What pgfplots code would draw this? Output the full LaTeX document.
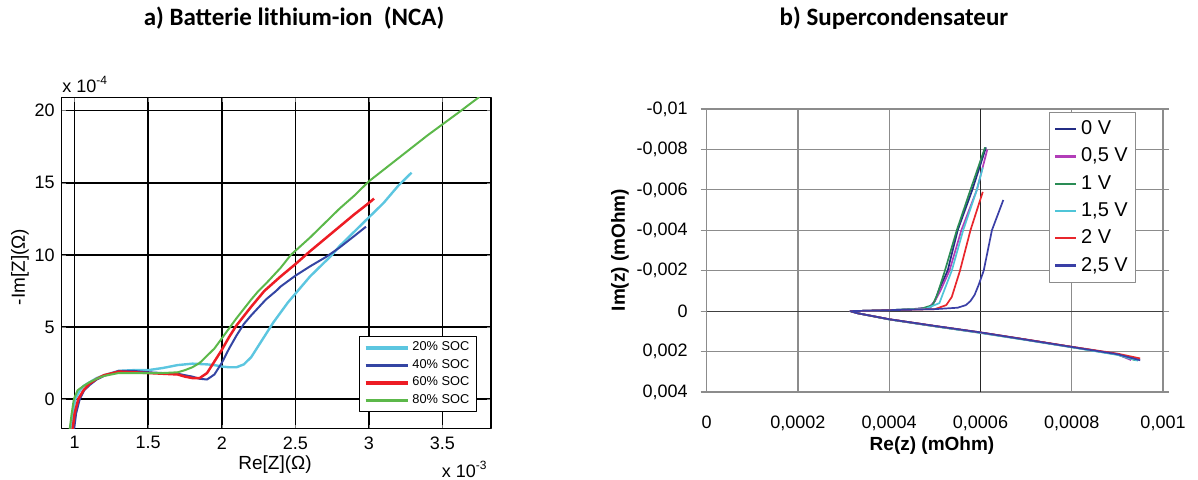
\documentclass[border=0pt]{standalone}
\usepackage{pgfplots}
\pgfplotsset{compat=1.18}
\usepackage{fontspec}
\setmainfont{Liberation Sans}
\newfontfamily\titlefont{Carlito}
\definecolor{cCyan}{HTML}{5CC6E0}
\definecolor{cBlue}{HTML}{3445A3}
\definecolor{cRed}{HTML}{ED1C24}
\definecolor{cGreen}{HTML}{5CB84A}
\definecolor{vA}{HTML}{232C84}
\definecolor{vB}{HTML}{B23DB8}
\definecolor{vC}{HTML}{2A8C55}
\definecolor{vD}{HTML}{4FC5D8}
\definecolor{vE}{HTML}{E8262C}
\definecolor{vF}{HTML}{3A3FA6}
\begin{document}
\begin{tikzpicture}
\useasboundingbox (0pt,0pt) rectangle (599pt,-239.5pt);
% ---------------- left plot
\begin{axis}[at={(30.85pt,-48.85pt)}, anchor=north west, scale only axis,
  width=214.65pt, height=165.4pt,
  xmin=0.912, xmax=3.83, ymin=-2.05, ymax=20.9,
  xtick={1,1.5,2,2.5,3,3.5}, xticklabels={1,1.5,2,2.5,3,3.5},
  ytick={0,5,10,15,20}, yticklabels={0,5,10,15,20},
  scaled ticks=false,
  xmajorgrids=true, ymajorgrids=true,
  grid style={draw=black,line width=0.8pt},
  major grid style={draw=black,line width=0.8pt},
  axis line style={black,line width=0.7pt},
  tick align=inside, major tick length=2pt,
  ticklabel style={font=\fontsize{9}{10}\selectfont},
  xticklabel style={yshift=-0.5pt},
  legend cell align=left,
  legend style={at={(0.693,0.2796)}, anchor=north west, draw=black, line width=0.6pt,
    font=\fontsize{6.4}{7}\selectfont, row sep=1.6pt, inner xsep=2pt, inner ysep=2pt,
    nodes={inner ysep=0.6pt, inner xsep=1.5pt}},
  legend image code/.code={\draw[#1,line width=1.8pt] (0pt,0pt) -- (21pt,0pt);},
  line join=round,
]
\addplot[cCyan, line width=1.2pt] coordinates {(0.975,-2.2)(0.988,-1)(1.005,0)(1.03,0.5)(1.06,0.9)(1.1,1.15)(1.15,1.45)(1.2,1.65)(1.3,1.95)(1.4,2.0)(1.5,2.0)(1.6,2.15)(1.7,2.35)(1.8,2.45)(1.9,2.4)(1.95,2.35)(2.0,2.25)(2.05,2.2)(2.1,2.2)(2.15,2.4)(2.2,2.9)(2.25,3.7)(2.3,4.5)(2.35,5.3)(2.4,6.0)(2.45,6.7)(2.5,7.3)(2.6,8.5)(2.7,9.5)(2.75,10.0)(2.8,10.6)(2.9,11.6)(3.0,12.6)(3.1,13.6)(3.2,14.8)(3.29,15.7)};
\addlegendentry{20\% SOC}
\addplot[cBlue, line width=1.0pt] coordinates {(0.995,-2.2)(1.01,-1)(1.035,0)(1.065,0.6)(1.1,0.95)(1.15,1.35)(1.2,1.6)(1.3,1.95)(1.4,1.95)(1.5,1.85)(1.6,1.8)(1.7,1.75)(1.75,1.65)(1.8,1.55)(1.85,1.4)(1.9,1.35)(1.95,1.7)(2.0,2.5)(2.05,3.5)(2.1,4.4)(2.15,5.2)(2.2,5.8)(2.3,6.9)(2.37,7.5)(2.4,7.8)(2.5,8.55)(2.6,9.2)(2.7,9.8)(2.73,10.0)(2.8,10.5)(2.9,11.3)(2.98,11.95)};
\addlegendentry{40\% SOC}
\addplot[cRed, line width=1.25pt] coordinates {(0.985,-2.2)(1.0,-1)(1.025,0)(1.06,0.6)(1.1,1.05)(1.15,1.4)(1.2,1.65)(1.3,1.9)(1.4,1.85)(1.5,1.8)(1.6,1.75)(1.7,1.7)(1.75,1.55)(1.8,1.45)(1.85,1.45)(1.9,1.8)(1.95,2.6)(2.0,3.4)(2.05,4.3)(2.1,5.1)(2.2,6.4)(2.29,7.5)(2.4,8.5)(2.5,9.35)(2.55,9.8)(2.6,10.25)(2.7,11.1)(2.8,11.95)(2.9,12.8)(3.0,13.6)(3.035,13.9)};
\addlegendentry{60\% SOC}
\addplot[cGreen, line width=1.0pt] coordinates {(0.965,-2.2)(0.98,-1)(0.995,0)(1.02,0.6)(1.06,0.9)(1.1,1.15)(1.15,1.4)(1.2,1.6)(1.3,1.8)(1.4,1.8)(1.5,1.8)(1.6,1.8)(1.7,1.85)(1.75,2.0)(1.8,2.2)(1.85,2.5)(1.9,3.0)(1.95,3.5)(2.0,4.2)(2.05,4.9)(2.1,5.6)(2.2,6.9)(2.25,7.5)(2.3,8.0)(2.4,9.1)(2.47,10.0)(2.6,11.2)(2.7,12.2)(2.8,13.2)(2.9,14.1)(3.0,15.1)(3.1,15.9)(3.2,16.7)(3.3,17.5)(3.4,18.3)(3.5,19.05)(3.6,19.8)(3.75,20.95)};
\addlegendentry{80\% SOC}
\end{axis}
% ---------------- right plot
\begin{axis}[at={(353.35pt,-54.5pt)}, anchor=north west, scale only axis,
  width=228.15pt, height=141.5pt,
  xmin=0, xmax=0.001, ymin=-0.01, ymax=0.004, y dir=reverse,
  xtick={0,0.0002,0.0004,0.0006,0.0008,0.001},
  xticklabels={0,{0,0002},{0,0004},{0,0006},{0,0008},{0,001}},
  ytick={-0.01,-0.008,-0.006,-0.004,-0.002,0,0.002,0.004},
  yticklabels={{-0,01},{-0,008},{-0,006},{-0,004},{-0,002},0,{0,002},{0,004}},
  scaled ticks=false,
  grid=major, major grid style={black!45,line width=0.55pt},
  axis line style={black!45,line width=0.55pt},
  tick align=outside, major tick length=3pt,
  ytick style={black!45,line width=0.55pt},
  xtick style={draw=none},
  extra x ticks={0.0006}, extra x tick labels={},
  extra x tick style={grid=major, major grid style={black!85,line width=0.55pt}, tick style={draw=none}},
  extra y ticks={0}, extra y tick labels={},
  extra y tick style={grid=major, major grid style={black!75,line width=0.6pt}},
  ticklabel style={font=\fontsize{9}{10}\selectfont},
  xticklabel style={yshift=-5.5pt},
  yticklabel style={xshift=-3pt},
  legend cell align=left,
  legend style={at={(0.751,0.989)}, anchor=north west, draw=black!45, line width=0.5pt,
    font=\fontsize{10}{11}\selectfont, row sep=1.2pt, inner xsep=2pt, inner ysep=2pt},
  legend image code/.code={\draw[#1,line width=1.1pt] (0pt,0pt) -- (10.5pt,0pt);},
  line join=round,
]
\addplot[vA, line width=0.85pt] coordinates {(0.000945,0.0024)(0.0009,0.00213)(0.0008,0.00177)(0.0007,0.00141)(0.0006,0.00106)(0.0005,0.00074)(0.0004,0.0004)(0.00033,0.0001)(0.000315,0)(0.0004,-0.00005)(0.00045,-0.0001)(0.00049,-0.00018)(0.0005,-0.0005)(0.000508,-0.001)(0.000528,-0.002)(0.00055,-0.004)(0.000582,-0.006)(0.000612,-0.0081)};
\addlegendentry{0 V}
\addplot[vB, line width=0.85pt] coordinates {(0.00093,0.00242)(0.0009,0.00214)(0.0008,0.00177)(0.0007,0.00141)(0.0006,0.00106)(0.0005,0.00074)(0.0004,0.0004)(0.00033,0.0001)(0.000315,0)(0.0004,-0.00005)(0.00046,-0.0001)(0.000488,-0.0002)(0.0005,-0.0005)(0.000512,-0.001)(0.000532,-0.002)(0.000558,-0.004)(0.000592,-0.006)(0.000615,-0.008)};
\addlegendentry{0,5 V}
\addplot[vC, line width=0.85pt] coordinates {(0.00094,0.00243)(0.0009,0.00215)(0.0008,0.00178)(0.0007,0.00142)(0.0006,0.00107)(0.0005,0.00075)(0.0004,0.00041)(0.00033,0.0001)(0.000315,0)(0.0004,-0.00005)(0.00047,-0.00012)(0.000495,-0.0003)(0.000505,-0.0008)(0.000522,-0.002)(0.000548,-0.004)(0.000578,-0.006)(0.00061,-0.0081)};
\addlegendentry{1 V}
\addplot[vD, line width=0.85pt] coordinates {(0.000945,0.00245)(0.0009,0.00216)(0.0008,0.00179)(0.0007,0.00143)(0.0006,0.00108)(0.0005,0.00075)(0.0004,0.00041)(0.00033,0.0001)(0.000315,0)(0.0004,-0.00005)(0.00048,-0.00012)(0.00051,-0.0004)(0.00052,-0.001)(0.000537,-0.002)(0.000562,-0.004)(0.000592,-0.006)(0.000605,-0.0071)};
\addlegendentry{1,5 V}
\addplot[vE, line width=0.85pt] coordinates {(0.00095,0.00234)(0.0009,0.0021)(0.0008,0.00176)(0.0007,0.0014)(0.0006,0.00105)(0.0005,0.00073)(0.0004,0.0004)(0.00033,0.0001)(0.000315,0)(0.0004,-0.00005)(0.0005,-0.0001)(0.000525,-0.0003)(0.000537,-0.0007)(0.000555,-0.002)(0.000578,-0.004)(0.000605,-0.0059)};
\addlegendentry{2 V}
\addplot[vF, line width=0.85pt] coordinates {(0.00095,0.00243)(0.0009,0.00213)(0.0008,0.00177)(0.0007,0.00141)(0.0006,0.00105)(0.0005,0.00073)(0.0004,0.0004)(0.00033,0.0001)(0.000315,0)(0.0004,-0.00005)(0.0005,-0.0001)(0.00055,-0.00017)(0.000568,-0.0003)(0.000578,-0.0005)(0.000587,-0.0008)(0.000596,-0.0013)(0.000607,-0.002)(0.000625,-0.004)(0.00065,-0.0055)};
\addlegendentry{2,5 V}
\end{axis}
% ---------------- texts
\node[font=\titlefont\bfseries\fontsize{12.5}{13}\selectfont] at (147pt,-9pt) {a) Batterie lithium-ion\ \ (NCA)};
\node[font=\titlefont\bfseries\fontsize{12.5}{13}\selectfont] at (447pt,-9pt) {b) Supercondensateur};
\node[anchor=base west, inner sep=0pt, font=\fontsize{9}{10}\selectfont] at (31pt,-46pt) {x 10\textsuperscript{-4}};
\node[anchor=base east, inner sep=0pt, font=\fontsize{9}{10}\selectfont] at (244pt,-238.6pt) {x 10\textsuperscript{-3}};
\node[font=\fontsize{9.5}{10}\selectfont] at (137.5pt,-232.5pt) {Re[Z](Ω)};
\node[rotate=90, font=\fontsize{9.5}{10}\selectfont] at (10pt,-133.5pt) {-Im[Z](Ω)};
\node[rotate=90, font=\bfseries\fontsize{9.5}{10}\selectfont] at (310pt,-125pt) {Im(z) (mOhm)};
\node[font=\bfseries\fontsize{9.5}{10}\selectfont] at (466pt,-223pt) {Re(z) (mOhm)};
\end{tikzpicture}
\end{document}
